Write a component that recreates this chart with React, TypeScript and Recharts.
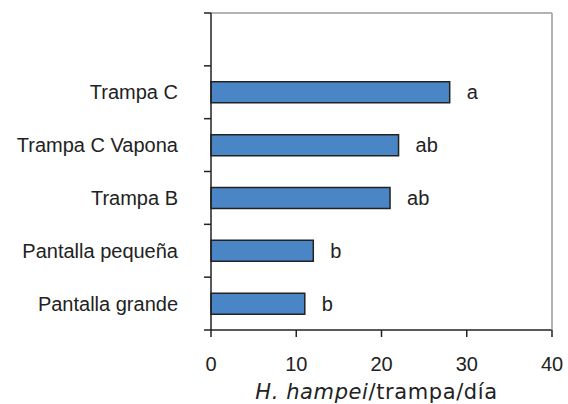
import { BarChart, Bar, XAxis, YAxis, LabelList, Label } from "recharts";

const categories = ["", "Trampa C", "Trampa C Vapona", "Trampa B", "Pantalla pequeña", "Pantalla grande"];
const values = [null, 28, 22, 21, 12, 11];
const letters = ["", "a", "ab", "ab", "b", "b"];
const xTicks = [0, 10, 20, 30, 40];

const data = categories.map((name, i) => ({ name, value: values[i], letter: letters[i] }));

const labelFont = "'Liberation Sans', Arial, sans-serif";
const axisColor = "#222";
const TICK = 7;
const Y_MARGIN = 26;
const X_MARGIN = 20;

function AxisTitle(props: any) {
  const vb = props.viewBox || {};
  const cx = vb.x + vb.width / 2 - 5;
  return (
    <text
      x={cx}
      y={vb.y + 69}
      textAnchor="middle"
      fontFamily="'DejaVu Sans', sans-serif"
      fontSize={21}
      letterSpacing={0.6}
      fill="#222"
    >
      <tspan fontStyle="italic">H. hampei</tspan>
      <tspan>/trampa/día</tspan>
    </text>
  );
}

// category label plus tick marks on the band boundaries
function CategoryTick(props: any) {
  const { x, y, payload, index, visibleTicksCount, height } = props;
  const half =
    payload && typeof payload.offset === "number" && payload.offset > 0
      ? payload.offset
      : height / visibleTicksCount / 2;
  const axisX = x + TICK + Y_MARGIN;
  return (
    <g>
      <text x={x} y={y} dy="0.355em" textAnchor="end" fill="#222" fontSize={20} fontFamily={labelFont}>
        {payload.value}
      </text>
      {index === 0 && (
        <line x1={axisX - TICK} x2={axisX} y1={y - half} y2={y - half} stroke={axisColor} strokeWidth={1.5} />
      )}
      <line x1={axisX - TICK} x2={axisX} y1={y + half} y2={y + half} stroke={axisColor} strokeWidth={1.5} />
    </g>
  );
}

function ValueTick(props: any) {
  const { x, y, payload } = props;
  const axisY = y - TICK - X_MARGIN;
  return (
    <g>
      <line x1={x} x2={x} y1={axisY} y2={axisY + TICK} stroke={axisColor} strokeWidth={1.5} />
      <text x={x} y={y} dy="0.71em" textAnchor="middle" fill="#222" fontSize={20} fontFamily={labelFont}>
        {payload.value}
      </text>
    </g>
  );
}

export default function App() {
  return (
    <div style={{ position: "absolute", left: 0, top: 0, background: "#fff" }}>
      <BarChart
        width={568}
        height={404}
        data={data}
        layout="vertical"
        margin={{ top: 12, right: 15, bottom: 0, left: 0 }}
      >
        <XAxis
          type="number"
          domain={[0, 40]}
          ticks={xTicks}
          height={74}
          tickSize={TICK}
          tickMargin={X_MARGIN}
          axisLine={{ stroke: axisColor, strokeWidth: 1.5 }}
          tickLine={false}
          tick={<ValueTick />}
        >
          <Label content={<AxisTitle />} />
        </XAxis>
        <XAxis
          xAxisId="top"
          orientation="top"
          type="number"
          domain={[0, 40]}
          height={1}
          tick={false}
          tickLine={false}
          axisLine={{ stroke: "#9a9a9a", strokeWidth: 1.5 }}
        />
        <YAxis
          type="category"
          dataKey="name"
          width={211}
          axisLine={{ stroke: axisColor, strokeWidth: 1.5 }}
          tickLine={false}
          tickSize={TICK}
          tickMargin={Y_MARGIN}
          tick={<CategoryTick />}
        />
        <YAxis
          yAxisId="right"
          orientation="right"
          type="number"
          domain={[0, 6]}
          width={1}
          tick={false}
          tickLine={false}
          axisLine={{ stroke: "#9a9a9a", strokeWidth: 1.5 }}
        />
        <Bar
          dataKey="value"
          fill="#4a86c6"
          stroke="#222"
          strokeWidth={1.5}
          barSize={21}
          isAnimationActive={false}
        >
          <LabelList
            dataKey="letter"
            position="right"
            offset={17}
            fill="#222"
            fontSize={20}
            fontFamily={labelFont}
          />
        </Bar>
      </BarChart>
    </div>
  );
}
